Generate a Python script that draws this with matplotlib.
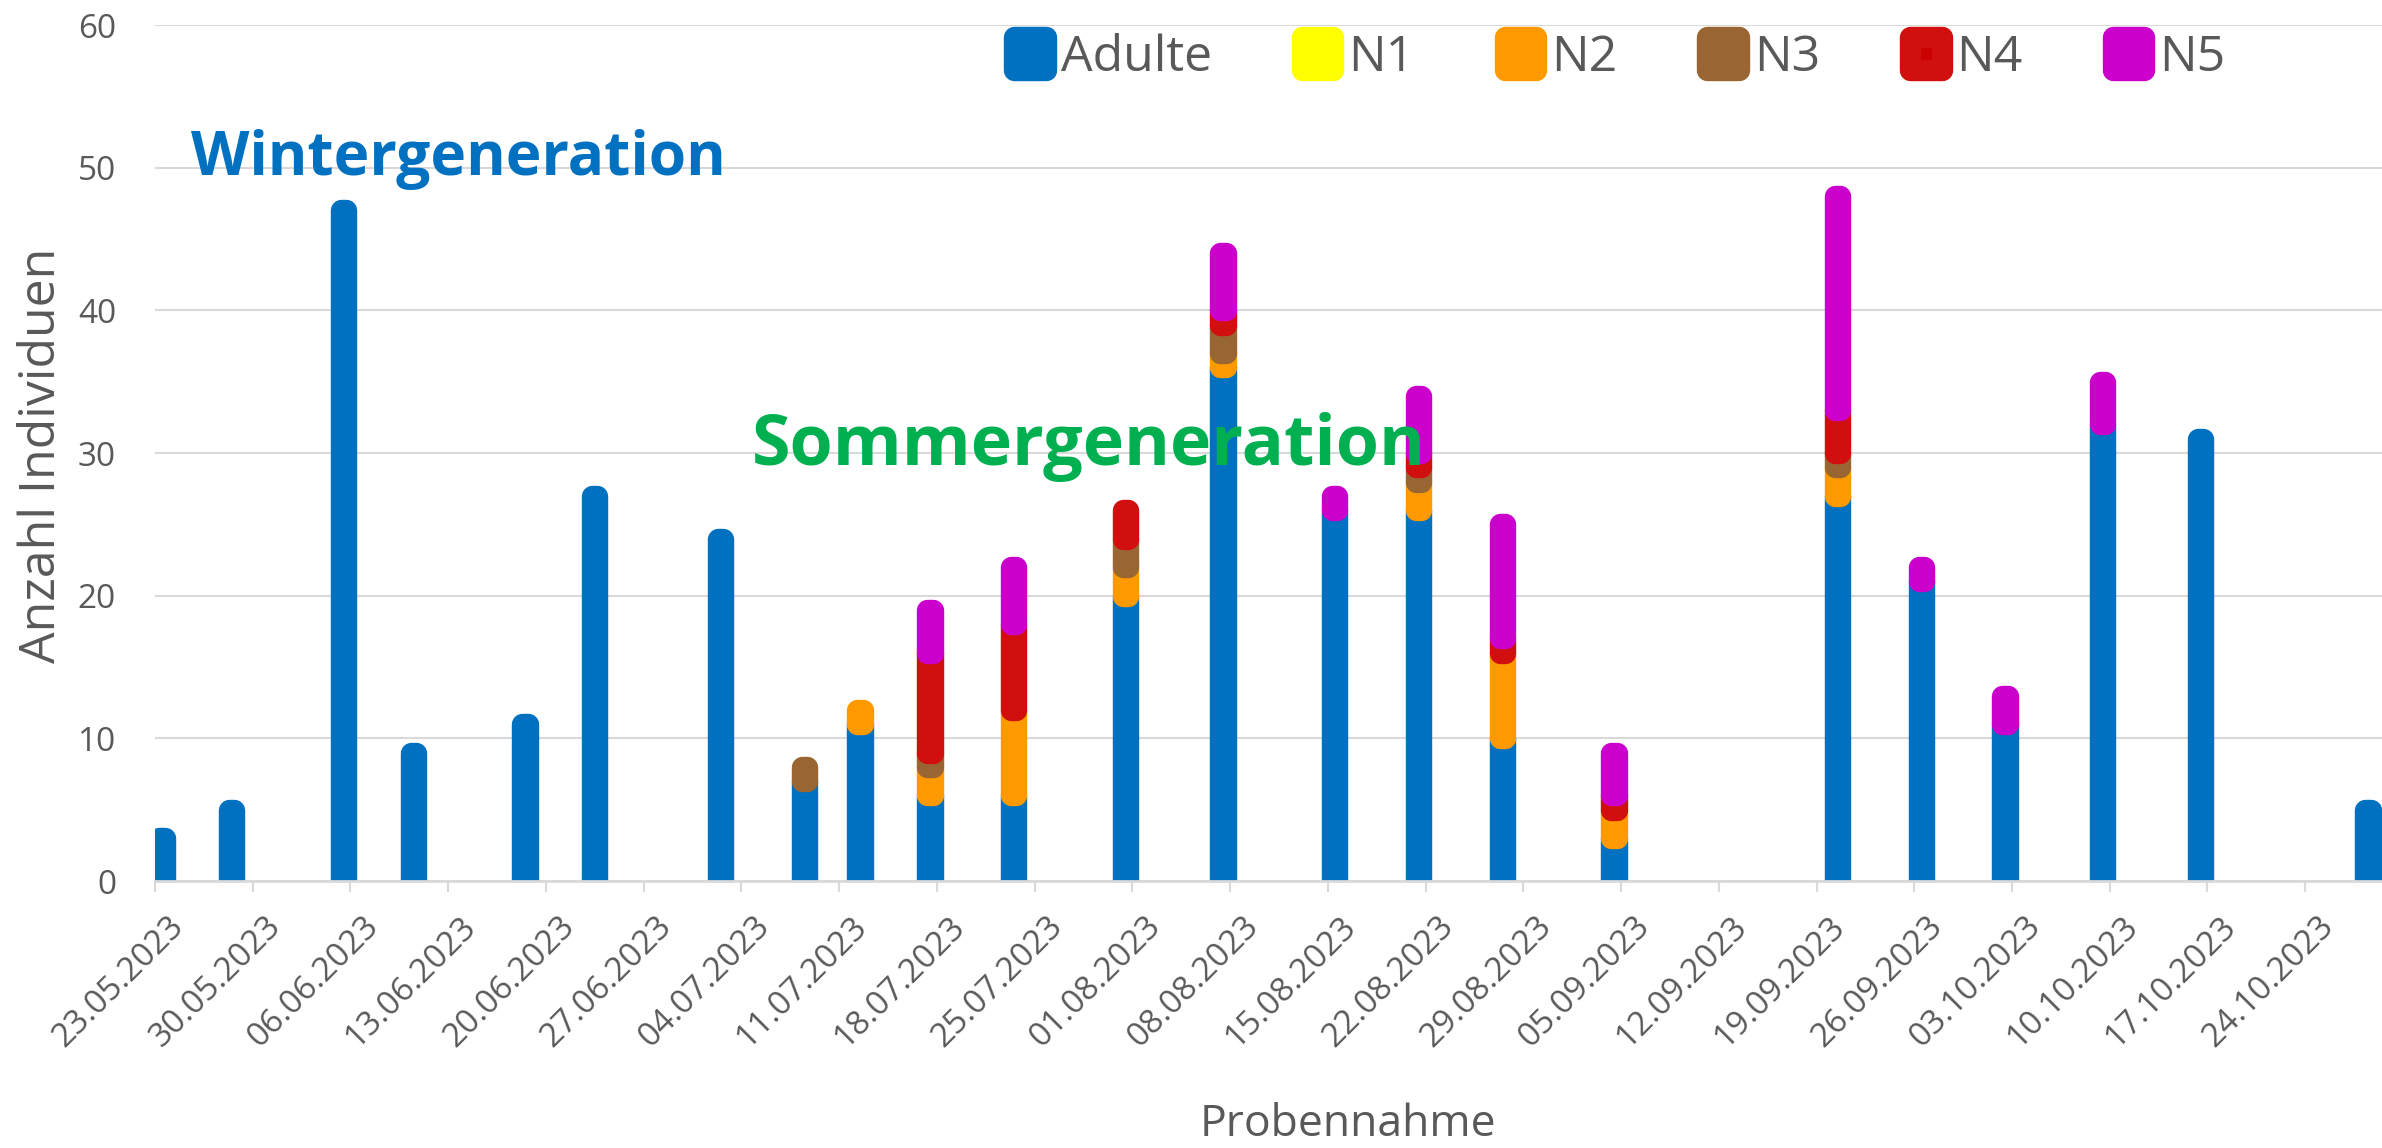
import matplotlib
matplotlib.use('Agg')
import matplotlib.pyplot as plt
import matplotlib.dates as mdates
import matplotlib.transforms as mtransforms
from matplotlib.patches import Patch
import numpy as np
import pandas as pd

plt.rcParams['font.family'] = ['Open Sans', 'DejaVu Sans']

# Probennahme-Termine und Anzahl je Stadium
dates = ['23.05.2023', '28.05.2023', '05.06.2023', '10.06.2023', '18.06.2023', '23.06.2023',
         '02.07.2023', '08.07.2023', '12.07.2023', '17.07.2023', '23.07.2023', '31.07.2023',
         '07.08.2023', '15.08.2023', '21.08.2023', '27.08.2023', '04.09.2023', '20.09.2023',
         '26.09.2023', '02.10.2023', '09.10.2023', '16.10.2023', '28.10.2023']
adulte = [3, 5, 47, 9, 11, 27, 24, 7, 11, 6, 6, 20, 36, 26, 26, 10, 3, 27, 21, 11, 32, 31, 5]
n1 = [0, 0, 0, 0, 0, 0, 0, 0, 0, 0, 0, 0, 0, 0, 0, 0, 0, 0, 0, 0, 0, 0, 0]
n2 = [0, 0, 0, 0, 0, 0, 0, 0, 1, 2, 6, 2, 1, 0, 2, 6, 2, 2, 0, 0, 0, 0, 0]
n3 = [0, 0, 0, 0, 0, 0, 0, 1, 0, 1, 0, 2, 2, 0, 1, 0, 0, 1, 0, 0, 0, 0, 0]
n4 = [0, 0, 0, 0, 0, 0, 0, 0, 0, 7, 6, 2, 1, 0, 1, 1, 1, 3, 0, 0, 0, 0, 0]
n5 = [0, 0, 0, 0, 0, 0, 0, 0, 0, 3, 4, 0, 4, 1, 4, 8, 3, 15, 1, 2, 3, 0, 0]

series_names = ['Adulte', 'N1', 'N2', 'N3', 'N4', 'N5']
colors = ['#0070C0', '#FFFF00', '#FF9900', '#996633', '#CC0000', '#CC00CC']
edge_colors = ['#0070C0', '#FFFF00', '#FF9900', '#996633', '#D10F0F', '#CC00CC']

tick_labels = ['23.05.2023', '30.05.2023', '06.06.2023', '13.06.2023', '20.06.2023', '27.06.2023',
               '04.07.2023', '11.07.2023', '18.07.2023', '25.07.2023', '01.08.2023', '08.08.2023',
               '15.08.2023', '22.08.2023', '29.08.2023', '05.09.2023', '12.09.2023', '19.09.2023',
               '26.09.2023', '03.10.2023', '10.10.2023', '17.10.2023', '24.10.2023']

x = mdates.date2num(pd.to_datetime(dates, format='%d.%m.%Y')) + 0.5
ticks = mdates.date2num(pd.to_datetime(tick_labels, format='%d.%m.%Y'))

W, H = 2382, 1148
fig = plt.figure(figsize=(W / 100, H / 100), dpi=100)
ax = fig.add_axes([155 / W, 1 - 881 / H, (W - 155) / W, 856 / H])

lw = 15.4
bottom = np.zeros(len(dates))
for name, vals, fc, ec in zip(series_names, [adulte, n1, n2, n3, n4, n5], colors, edge_colors):
    vals = np.array(vals, dtype=float)
    m = vals > 0
    if m.any():
        ax.bar(x[m], vals[m], bottom=bottom[m], width=0.38, color=fc, edgecolor=ec,
               linewidth=lw, joinstyle='round', zorder=2)
    bottom += vals

ax.set_xlim(ticks[0], ticks[0] + 159.5)
ax.set_ylim(0, 60)
ax.set_yticks(range(0, 61, 10))
ax.set_xticks(ticks)
ax.set_xticklabels(tick_labels)

ax.yaxis.grid(True, color='#D9D9D9', linewidth=1.5)
ax.set_axisbelow(True)
for s in ['left', 'top', 'right']:
    ax.spines[s].set_visible(False)
ax.spines['bottom'].set_color('#D9D9D9')
ax.spines['bottom'].set_linewidth(2)

ax.tick_params(axis='y', length=0, pad=28, labelsize=24, labelcolor='#595959')
ax.tick_params(axis='x', length=8, width=1.5, color='#D9D9D9', pad=21, labelsize=24,
               labelcolor='#595959')
shift = mtransforms.ScaledTranslation(17 / 72, 0, fig.dpi_scale_trans)
for lbl in ax.get_xticklabels():
    lbl.set_rotation(45)
    lbl.set_ha('right')
    lbl.set_va('center')
    lbl.set_rotation_mode('anchor')
    lbl.set_transform(lbl.get_transform() + shift)

fig.text(55 / W, 1 - 455 / H, 'Anzahl Individuen', rotation=90, rotation_mode='anchor',
         ha='center', va='baseline', fontsize=36, color='#595959')
fig.text(1347.5 / W, 1 / H, 'Probennahme', ha='center', va='bottom',
         fontsize=32, color='#595959')

ax.text(0.0162, 0.825, 'Wintergeneration', transform=ax.transAxes, fontsize=43.5,
        fontweight='bold', color='#0070C0', va='baseline', ha='left', zorder=5)
ax.text(0.268, 0.486, 'Sommergeneration', transform=ax.transAxes, fontsize=50.4,
        fontweight='bold', color='#00B050', va='baseline', ha='left', zorder=5)

handles = [Patch(facecolor=fc, edgecolor=ec, linewidth=lw, joinstyle='round', label=name)
           for name, fc, ec in zip(series_names, colors, edge_colors)]
leg = ax.legend(handles=handles, loc='center', bbox_to_anchor=(1620 / W, 1 - 58 / H),
                bbox_transform=fig.transFigure, ncol=6, frameon=False, fontsize=36,
                handlelength=0.63, handleheight=0.63, handletextpad=0.3, columnspacing=1.8,
                borderpad=0, labelcolor='#595959')
for p in leg.get_patches():
    p.set_joinstyle('round')

fig.savefig('out.png', dpi=100)
